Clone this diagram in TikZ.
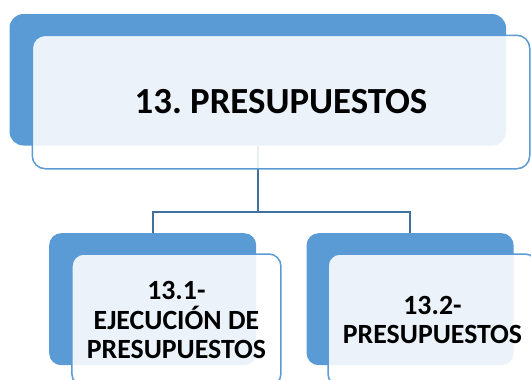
\documentclass[tikz,border=0pt]{standalone}
\usepackage{fontspec}
\setmainfont{Carlito}
\usepackage{tikz}
\definecolor{backblue}{RGB}{91,155,213}
\definecolor{linkblue}{RGB}{65,113,156}
\tikzset{
  backbox/.style={rectangle,draw=none,fill=backblue,rounded corners=#1},
  frontbox/.style={rectangle,draw=backblue,line width=1.5pt,fill=white,
    fill opacity=0.88,text opacity=1,rounded corners=#1,align=center,
    font=\bfseries},
  link/.style={draw=linkblue,line width=2pt}
}
\frenchspacing

\begin{document}
\begin{tikzpicture}[x=1pt,y=-1pt]
\clip (0,0) rectangle (531,380);
\node[backbox=14pt,minimum width=496.5pt,minimum height=131.5pt] (mainb) at (257.75,79.75) {};
\node[backbox=12pt,minimum width=207pt,minimum height=132pt] (ejecb) at (152.7,299.2) {};
\node[backbox=12pt,minimum width=207pt,minimum height=132pt] (presb) at (410.1,299.2) {};
\coordinate (split) at (257.75,212);
\draw[link] (mainb.south) -- (split) -| (ejecb.north);
\draw[link] (split) -| (presb.north);
\node[frontbox=13pt,minimum width=497.5pt,minimum height=133.5pt,
  font=\bfseries\fontsize{36.8}{44}\selectfont] (main) at (281,102) {13. PRESUPUESTOS};
\node[frontbox=12pt,minimum width=209pt,minimum height=132pt,
  font=\bfseries\fontsize{27.8}{29.2}\selectfont] (ejec) at (176.4,320) {13.1-\\EJECUCIÓN DE\\PRESUPUESTOS};
\node[frontbox=12pt,minimum width=209pt,minimum height=132pt,
  font=\bfseries\fontsize{27.8}{29.2}\selectfont] (pres) at (432.5,320) {13.2-\\PRESUPUESTOS};
\end{tikzpicture}
\end{document}
